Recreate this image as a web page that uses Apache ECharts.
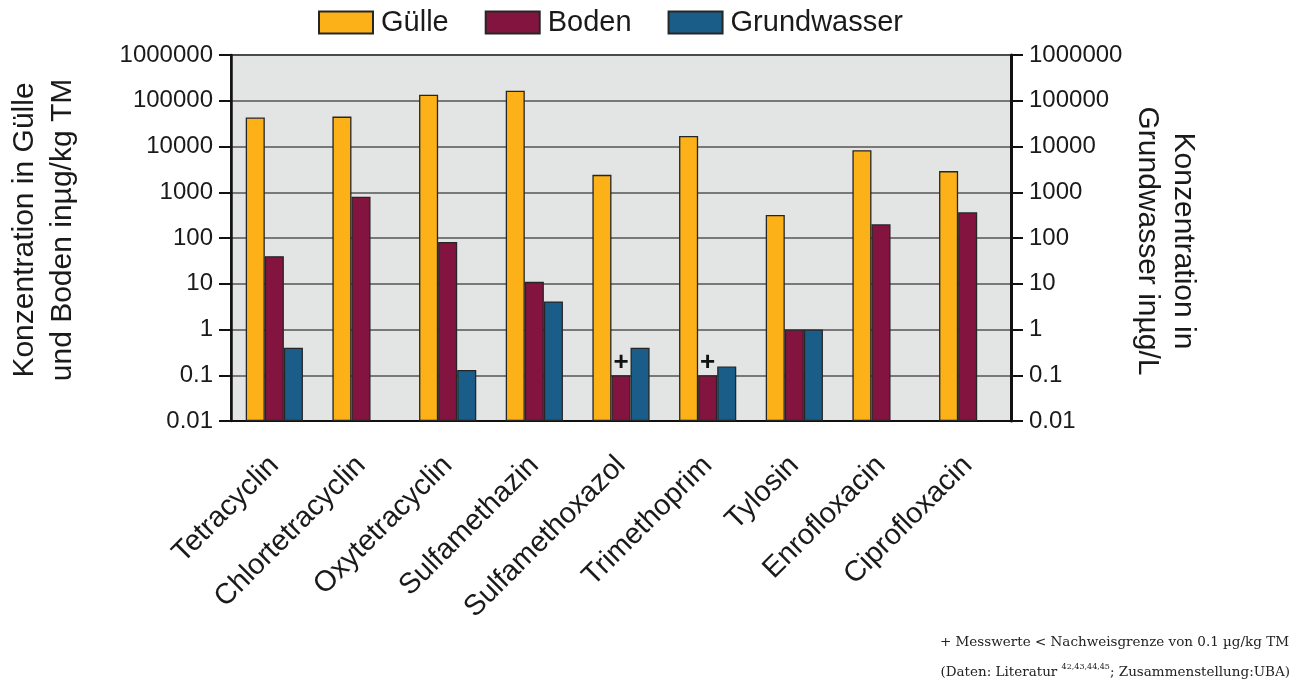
<!DOCTYPE html>
<html><head><meta charset="utf-8">
<script src="https://cdn.jsdelivr.net/npm/echarts@6/dist/echarts.min.js"></script>
<style>html,body{margin:0;padding:0;background:#fff}#c{width:1304px;height:682px}</style>
</head><body><div id="c"></div>
<script>
const categories = ['Tetracyclin','Chlortetracyclin','Oxytetracyclin','Sulfamethazin','Sulfamethoxazol','Trimethoprim','Tylosin','Enrofloxacin','Ciprofloxacin'];
const guelle = [43000, 45000, 135000, 165000, 2400, 17000, 320, 8300, 2900];
const boden = [40, 800, 82, 11, 0.1, 0.1, 1, 200, 365];
const grundwasser = [0.4, null, 0.13, 4.1, 0.4, 0.155, 1, null, null];
const bodenBelowLimit = [false, false, false, false, true, true, false, false, false];
const yTickLabels = ['0.01','0.1','1','10','100','1000','10000','100000','1000000'];
const seriesNames = ['Gülle','Boden','Grundwasser'];
const colors = ['#FBB117','#83143F','#1A5D88'];

const FONT = 'Liberation Sans';
const chart = echarts.init(document.getElementById('c'));
function tickFmt(v){ const e = Math.round(Math.log10(v)); const s = yTickLabels[e + 2]; return s === undefined ? '' : s; }
function yAxisBase(pos){
  return {
    type: 'log', logBase: 10, min: 0.01, max: 1000000, startValue: 0.01, splitNumber: 8, position: pos,
    axisLine: {show: true, onZero: false, lineStyle: {color: '#111', width: pos === 'left' ? 2.5 : 3}},
    axisTick: {show: true, length: 12, lineStyle: {color: '#111', width: 2}},
    axisLabel: {fontSize: 24, color: '#1a1a1a', margin: 18, fontFamily: FONT, formatter: tickFmt},
    splitLine: {show: pos === 'left', lineStyle: {color: '#555', width: 1.5}},
    minorTick: {show: false}, minorSplitLine: {show: false}
  };
}
const barStyle = (i) => ({color: colors[i], borderColor: '#262626', borderWidth: 1.3});
const bodenData = boden.map((v, i) => bodenBelowLimit[i]
  ? {value: v, label: {show: true, formatter: '+', position: 'top', distance: -1, fontSize: 26, fontWeight: 'bold', color: '#111', fontFamily: FONT}}
  : v);

chart.setOption({
  animation: false,
  textStyle: {fontFamily: FONT},
  grid: {left: 231, right: 293, top: 55, bottom: 261, show: true, backgroundColor: '#e3e4e4', borderColor: '#333', borderWidth: 2},
  legend: {
    top: 8, left: 318, itemWidth: 54, itemHeight: 22, itemGap: 36, padding: 0, icon: 'rect',
    textStyle: {fontSize: 29, color: '#1a1a1a', fontFamily: FONT, padding: [0, 0, 0, 3]},
    data: seriesNames
  },
  xAxis: {
    type: 'category', data: categories, boundaryGap: true,
    axisLine: {onZero: false, lineStyle: {color: '#111', width: 2}},
    axisTick: {alignWithLabel: true, length: 7, lineStyle: {color: '#111', width: 2}},
    axisLabel: {rotate: 45, fontSize: 29, color: '#1a1a1a', margin: 40, interval: 0, fontFamily: FONT},
    splitLine: {show: false}
  },
  yAxis: [yAxisBase('left'), yAxisBase('right')],
  series: [
    {name: seriesNames[0], type: 'bar', yAxisIndex: 0, data: guelle, itemStyle: barStyle(0), barGap: '0%', barCategoryGap: '34%'},
    {name: seriesNames[1], type: 'bar', yAxisIndex: 0, data: bodenData, itemStyle: barStyle(1), barGap: '0%', barCategoryGap: '34%'},
    {name: seriesNames[2], type: 'bar', yAxisIndex: 1, data: grundwasser, itemStyle: barStyle(2), barGap: '0%', barCategoryGap: '34%'}
  ],
  graphic: [
    {type: 'text', x: 44, y: 230, rotation: Math.PI / 2,
     style: {text: 'Konzentration in Gülle\nund Boden inµg/kg TM', fontSize: 30, fontFamily: FONT, fill: '#1a1a1a', align: 'center', verticalAlign: 'middle', lineHeight: 38}},
    {type: 'text', x: 1165, y: 241, rotation: -Math.PI / 2,
     style: {text: 'Konzentration in\nGrundwasser inµg/L', fontSize: 30, fontFamily: FONT, fill: '#1a1a1a', align: 'center', verticalAlign: 'middle', lineHeight: 36}},
    {type: 'text', x: 1289, y: 642,
     style: {text: '+ Messwerte < Nachweisgrenze von 0.1 µg/kg TM', fontSize: 13.5, fontFamily: 'DejaVu Serif', fill: '#222', align: 'right', verticalAlign: 'middle'}},
    {type: 'text', x: 1290, y: 672,
     style: {text: '(Daten: Literatur {sup|42,43,44,45}; Zusammenstellung:UBA)', fontSize: 13.5, fontFamily: 'DejaVu Serif', fill: '#222', align: 'right', verticalAlign: 'middle', lineHeight: 18,
       rich: {sup: {fontSize: 8, fontFamily: 'DejaVu Serif', fill: '#222', verticalAlign: 'top', lineHeight: 18}}}}
  ]
});
</script></body></html>
